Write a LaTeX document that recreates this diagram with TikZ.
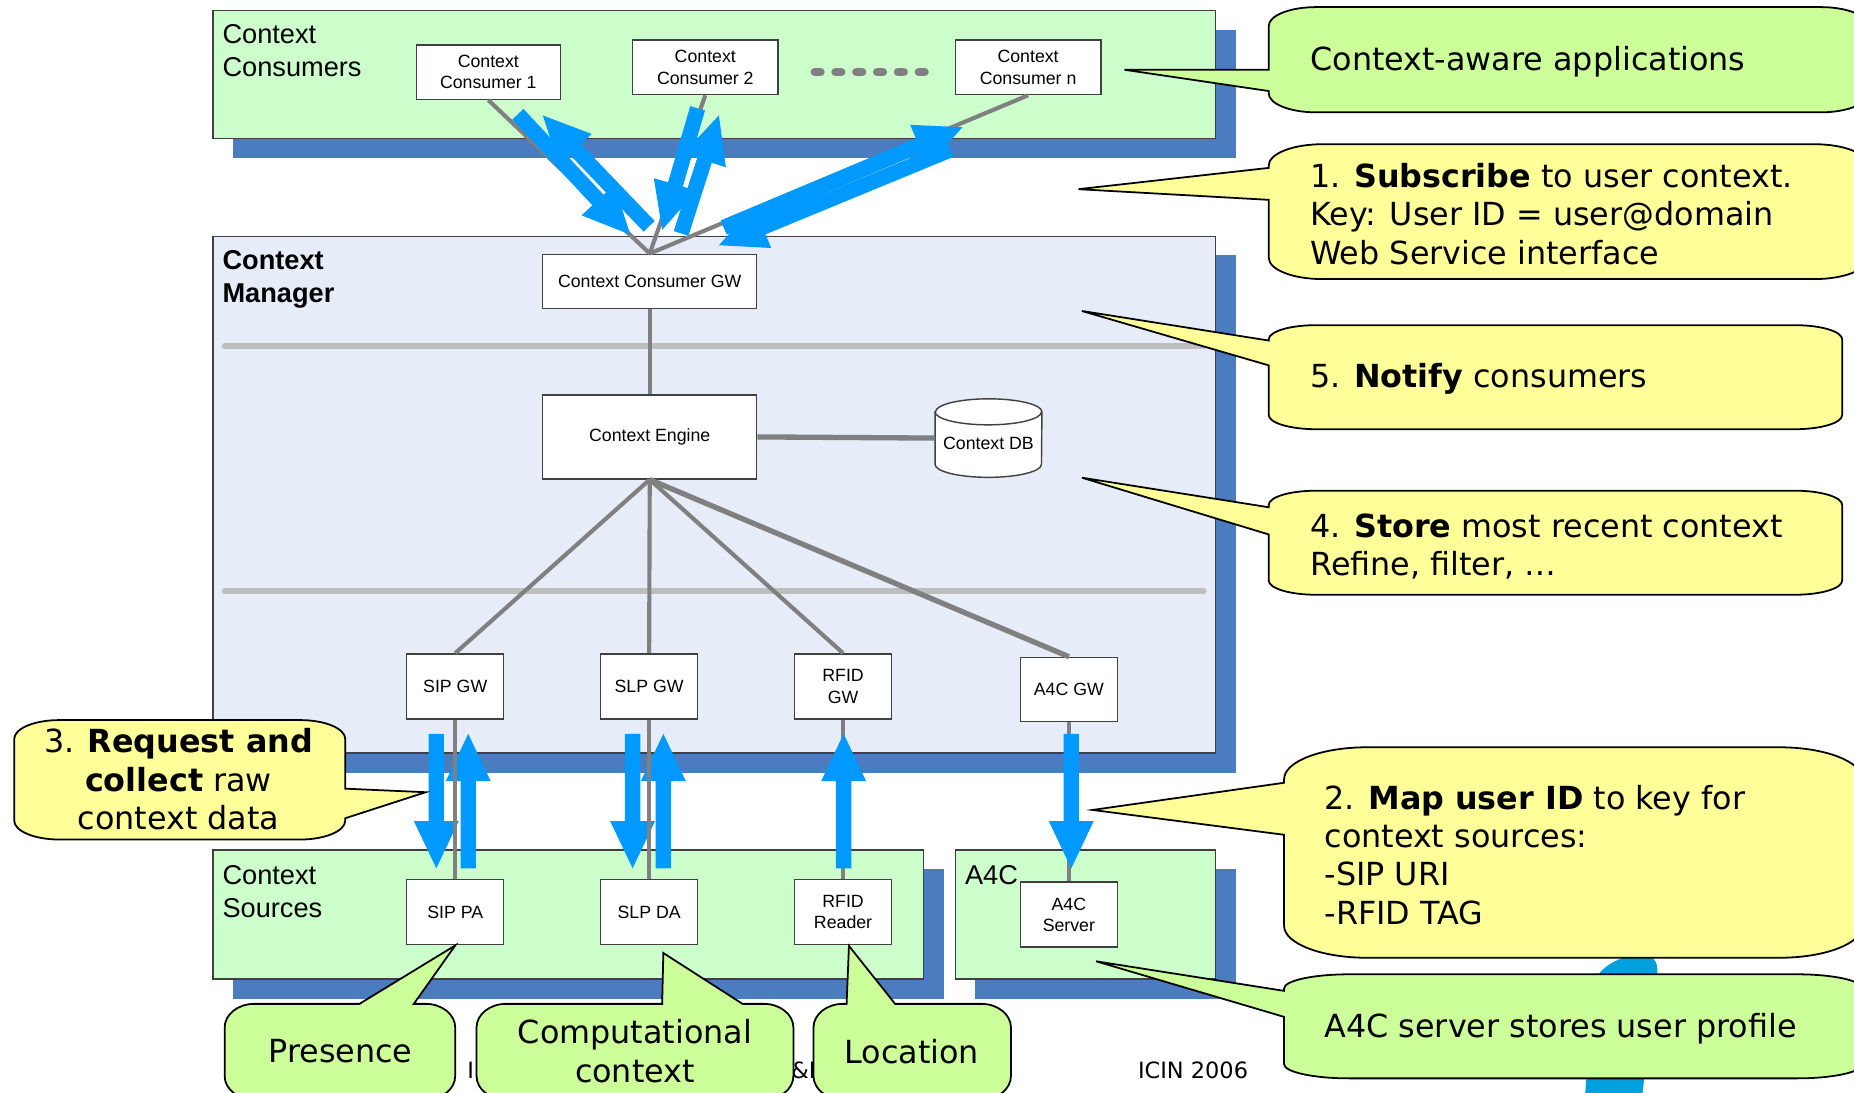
\documentclass[tikz,border=0pt]{standalone}
\usepackage{fontspec}
\setmainfont{Liberation Sans}
\newfontfamily\vfont{DejaVu Sans}
\usetikzlibrary{calc}
\definecolor{cgreen}{RGB}{204,255,204}
\definecolor{cblue}{RGB}{230,237,248}
\definecolor{cshadow}{RGB}{74,124,191}
\definecolor{cline}{RGB}{64,64,64}
\definecolor{cgray}{RGB}{128,128,128}
\definecolor{csep}{RGB}{190,190,190}
\definecolor{carrow}{RGB}{0,153,255}
\definecolor{cyel}{RGB}{255,255,153}
\definecolor{clime}{RGB}{204,255,153}
\definecolor{cswoosh}{RGB}{0,160,222}

% callout with wedge on the left side: style, L, T, R, B, rx, ry, y1, y2 ; tip in \ctip
\newcommand\calloutL[9]{%
\draw[#1] (#2,#8) -- (#2,{#3+#7}) .. controls (#2,{#3+0.448*#7}) and ({#2+0.448*#6},#3) .. ({#2+#6},#3)
 -- ({#4-#6},#3) .. controls ({#4-0.448*#6},#3) and (#4,{#3+0.448*#7}) .. (#4,{#3+#7})
 -- (#4,{#5-#7}) .. controls (#4,{#5-0.448*#7}) and ({#4-0.448*#6},#5) .. ({#4-#6},#5)
 -- ({#2+#6},#5) .. controls ({#2+0.448*#6},#5) and (#2,{#5-0.448*#7}) .. (#2,{#5-#7})
 -- (#2,#9) -- (\ctip) -- cycle;}
% callout with wedge on the right side
\newcommand\calloutR[9]{%
\draw[#1] (#4,#9) -- (#4,{#5-#7}) .. controls (#4,{#5-0.448*#7}) and ({#4-0.448*#6},#5) .. ({#4-#6},#5)
 -- ({#2+#6},#5) .. controls ({#2+0.448*#6},#5) and (#2,{#5-0.448*#7}) .. (#2,{#5-#7})
 -- (#2,{#3+#7}) .. controls (#2,{#3+0.448*#7}) and ({#2+0.448*#6},#3) .. ({#2+#6},#3)
 -- ({#4-#6},#3) .. controls ({#4-0.448*#6},#3) and (#4,{#3+0.448*#7}) .. (#4,{#3+#7})
 -- (#4,#8) -- (\ctip) -- cycle;}
% callout with wedge on the top side: x1, x2
\newcommand\calloutT[9]{%
\draw[#1] (#9,#3) -- ({#4-#6},#3) .. controls ({#4-0.448*#6},#3) and (#4,{#3+0.448*#7}) .. (#4,{#3+#7})
 -- (#4,{#5-#7}) .. controls (#4,{#5-0.448*#7}) and ({#4-0.448*#6},#5) .. ({#4-#6},#5)
 -- ({#2+#6},#5) .. controls ({#2+0.448*#6},#5) and (#2,{#5-0.448*#7}) .. (#2,{#5-#7})
 -- (#2,{#3+#7}) .. controls (#2,{#3+0.448*#7}) and ({#2+0.448*#6},#3) .. ({#2+#6},#3)
 -- (#8,#3) -- (\ctip) -- cycle;}
% thick blue arrow from #1 to #2
\newcommand\blarrow[2]{%
 \coordinate (ahC) at ($(#2)!40pt!(#1)$);
 \fill[carrow] ($(#1)!6.5pt!90:(#2)$) -- ($(ahC)!6.5pt!90:(#2)$) -- ($(ahC)!19pt!90:(#2)$) -- (#2)
  -- ($(ahC)!19pt!-90:(#2)$) -- ($(ahC)!6.5pt!-90:(#2)$) -- ($(#1)!6.5pt!-90:(#2)$) -- cycle;}

\tikzset{
 container/.style={draw=cline, line width=1.2pt, inner sep=0pt},
 shadowbox/.style={fill=cshadow},
 boxnode/.style={draw=cline, line width=1.2pt, fill=white, inner sep=0pt, align=center, font=\fontsize{15}{18}\selectfont},
 biglbl/.style={inner sep=0pt, anchor=west, align=left, font=\fontsize{23}{28}\selectfont},
 wire/.style={draw=cgray, line width=3.5pt},
 sepline/.style={draw=csep, line width=5pt, line cap=round},
 ctext/.style={inner sep=0pt, align=left, font=\vfont\fontsize{26.9}{32.5}\selectfont},
 yelcall/.style={fill=cyel, draw=black, line width=1.5pt},
 limecall/.style={fill=clime, draw=black, line width=1.5pt},
 foottext/.style={inner sep=0pt, font=\vfont\fontsize{19}{22}\selectfont},
}

\begin{document}
\begin{tikzpicture}[x=1pt,y=-1pt]
\useasboundingbox (0,0) rectangle (1568,924);
\clip (0,0) rectangle (1568,924);

% containers
\fill[shadowbox] (197,25) rectangle (1045,134);
\node[container, fill=cgreen, minimum width=848pt, minimum height=108pt] (consumers) at (604,63) {};
\fill[shadowbox] (197,216) rectangle (1045,654);
\node[container, fill=cblue, minimum width=848pt, minimum height=437pt] (manager) at (604,418.5) {};
\fill[shadowbox] (197,735) rectangle (798,845);
\node[container, fill=cgreen, minimum width=601pt, minimum height=109pt] (sources) at (480.5,773.5) {};
\fill[shadowbox] (825,735) rectangle (1045,845);
\node[container, fill=cgreen, minimum width=220pt, minimum height=109pt] (a4cbox) at (918,773.5) {};

\node[biglbl] (lconsumers) at (188,43) {Context\\Consumers};
\node[biglbl, font=\bfseries\fontsize{23}{28}\selectfont] (lmanager) at (188,236) {Context\\Manager};
\node[biglbl] (lsources) at (188,754) {Context\\Sources};
\node[biglbl] (la4c) at (816,740) {A4C};

\draw[sepline] (190,293) -- (1018,293);
\draw[sepline] (190,500) -- (1018,500);

% boxes
\node[boxnode, minimum width=122pt, minimum height=46pt] (cc1) at (413,61) {Context\\Consumer 1};
\node[boxnode, minimum width=123pt, minimum height=46pt] (cc2) at (596.5,57) {Context\\Consumer 2};
\node[boxnode, minimum width=123pt, minimum height=46pt] (ccn) at (869.5,57) {Context\\Consumer n};
\node[boxnode, minimum width=181pt, minimum height=46pt] (ccgw) at (549.5,238) {Context Consumer GW};
\node[boxnode, minimum width=181pt, minimum height=71pt] (engine) at (549.5,369.5) {Context Engine};
\node[boxnode, minimum width=82pt, minimum height=55pt] (sipgw) at (385,580.5) {SIP GW};
\node[boxnode, minimum width=82pt, minimum height=55pt] (slpgw) at (549,580.5) {SLP GW};
\node[boxnode, minimum width=82pt, minimum height=55pt] (rfidgw) at (713,580.5) {RFID\\GW};
\node[boxnode, minimum width=82pt, minimum height=54pt] (a4cgw) at (904,583) {A4C GW};
\node[boxnode, minimum width=82pt, minimum height=55pt] (sippa) at (385,771.5) {SIP PA};
\node[boxnode, minimum width=82pt, minimum height=55pt] (slpda) at (549,771.5) {SLP DA};
\node[boxnode, minimum width=82pt, minimum height=55pt] (rfidr) at (713,771.5) {RFID\\Reader};
\node[boxnode, minimum width=82pt, minimum height=55pt] (a4cs) at (904,773.5) {A4C\\Server};

% database cylinder
\node[inner sep=0pt, minimum width=90pt, minimum height=66pt] (db) at (836,370.5) {};
\filldraw[fill=white, draw=cline, line width=1.2pt] ($(db.north west)+(0,11)$) -- ($(db.south west)+(0,-11)$)
  arc[start angle=180, end angle=360, x radius=45pt, y radius=11pt] -- ($(db.north east)+(0,11)$)
  arc[start angle=0, end angle=180, x radius=45pt, y radius=11pt] -- cycle;
\draw[draw=cline, line width=1.2pt] ($(db.north west)+(0,11)$) arc[start angle=180, end angle=360, x radius=45pt, y radius=11pt];
\node[inner sep=0pt, font=\fontsize{15}{18}\selectfont] (dbt) at ($(db.center)+(0,4.5)$) {Context DB};

% dots between consumers
\foreach \i in {0,...,5} \draw[draw=cgray, line width=7pt, line cap=round] ({689+\i*17.6},61) -- ({694+\i*17.6},61);

% wires
\draw[wire] (cc1.south) -- (ccgw.north);
\draw[wire] (cc2.south) -- (ccgw.north);
\draw[wire] (ccn.south) -- (ccgw.north);
\draw[wire] (ccgw.south) -- (engine.north);
\draw[wire, line width=4.5pt] (engine.east) -- (db.west);
\draw[wire] (engine.south) -- (sipgw.north);
\draw[wire] (engine.south) -- (slpgw.north);
\draw[wire] (engine.south) -- (rfidgw.north);
\draw[wire, line width=4.5pt] (engine.south) -- (a4cgw.north);
\draw[wire] (rfidgw.south) -- (rfidr.north);
\draw[wire] (a4cgw.south) -- (a4cs.north);

% blue arrows, consumers <-> gateway
\coordinate (c1a) at ($(cc1.south)+(25,12)$);   \coordinate (c1b) at ($(ccgw.north)+(-16.5,-16)$);
\coordinate (c1c) at ($(ccgw.north)+(-0.5,-23)$); \coordinate (c1d) at ($(cc1.south)+(46,13)$);
\coordinate (c2a) at ($(cc2.south)+(-6.5,11)$);  \coordinate (c2b) at ($(ccgw.north)+(10.5,-20)$);
\coordinate (c2c) at ($(ccgw.north)+(26.5,-17)$); \coordinate (c2d) at ($(cc2.south)+(11.5,17)$);
\coordinate (cna) at ($(ccn.south)+(-65.5,46)$); \coordinate (cnb) at ($(ccgw.north)+(58.5,-7)$);
\coordinate (cnc) at ($(ccgw.north)+(62.5,-22)$); \coordinate (cnd) at ($(ccn.south)+(-55.5,27)$);
\blarrow{c1a}{c1b} \blarrow{c1c}{c1d}
\blarrow{c2a}{c2b} \blarrow{c2c}{c2d}
\blarrow{cna}{cnb} \blarrow{cnc}{cnd}

% blue arrows, gateways <-> sources
\coordinate (sa1) at ($(sipgw.south)+(-16,12)$); \coordinate (sa2) at ($(sippa.north)+(-16,-9)$);
\coordinate (sb1) at ($(sippa.north)+(11,-9)$);  \coordinate (sb2) at ($(sipgw.south)+(11,12)$);
\coordinate (la1) at ($(slpgw.south)+(-14,12)$); \coordinate (la2) at ($(slpda.north)+(-14,-9)$);
\coordinate (lb1) at ($(slpda.north)+(12,-9)$);  \coordinate (lb2) at ($(slpgw.south)+(12,12)$);
\coordinate (ra1) at ($(rfidr.north)+(0.5,-9)$); \coordinate (ra2) at ($(rfidgw.south)+(0.5,12)$);
\coordinate (aa1) at ($(a4cgw.south)+(2,10)$);   \coordinate (aa2) at ($(a4cs.north)+(2,-11)$);
\blarrow{sa1}{sa2} \blarrow{sb1}{sb2}
\blarrow{la1}{la2} \blarrow{lb1}{lb2}
\blarrow{ra1}{ra2}
\blarrow{aa1}{aa2}
\draw[wire, line width=3pt] (sipgw.south) -- (sippa.north);
\draw[wire, line width=3pt] (slpgw.south) -- (slpda.north);

% footer
\node[foottext, anchor=west] (foot1) at (395,905) {I};
\node[foottext, anchor=west] (foot2) at (669,905) {\&D};
\node[foottext] (icin) at (1009,905) {ICIN 2006};

% swoosh behind callouts
\fill[cswoosh] (1347,835) .. controls (1350,818) and (1372,806) .. (1392,808) .. controls (1404,810) and (1403,822) .. (1399,835) -- (1388,935) -- (1340,935) -- cycle;

% callouts
\coordinate (tipA) at (951,59);
\def\ctip{tipA}\calloutL{limecall}{1073}{6}{1580}{95}{40}{16}{59}{77}
\node[ctext, anchor=west] (tA) at (1108,52) {Context-aware applications};

\coordinate (tipB) at (912,160);
\def\ctip{tipB}\calloutL{yelcall}{1073}{122}{1580}{236}{45}{18}{142}{169}
\node[ctext, anchor=west] (tB) at (1108,181) {1. \textbf{Subscribe} to user context.\\Key: User ID = user@domain\\Web Service interface};

\coordinate (tipC) at (915,263);
\def\ctip{tipC}\calloutL{yelcall}{1073}{275}{1558}{363}{40}{12}{288}{309}
\node[ctext, anchor=west] (tC) at (1108,320) {5. \textbf{Notify} consumers};

\coordinate (tipD) at (915,404);
\def\ctip{tipD}\calloutL{yelcall}{1073}{415}{1558}{503}{40}{12}{429}{452}
\node[ctext, anchor=west] (tD) at (1108,462) {4. \textbf{Store} most recent context\\Refine, filter, …};

\coordinate (tipE) at (924,685);
\def\ctip{tipE}\calloutL{yelcall}{1086}{632}{1575}{810}{70}{27}{662}{706}
\node[ctext, anchor=west] (tE) at (1120,723) {2. \textbf{Map user ID} to key for\\context sources:\\-SIP URI\\-RFID TAG};

\coordinate (tipF) at (927,813);
\def\ctip{tipF}\calloutL{limecall}{1086}{824}{1575}{912}{55}{12}{838}{860}
\node[ctext, anchor=west] (tF) at (1120,870) {A4C server stores user profile};

\coordinate (tipG) at (360,670);
\def\ctip{tipG}\calloutR{yelcall}{12}{609}{292}{710}{38}{16}{667}{692}
\node[ctext, align=center] (tG) at (151,659) {3. \textbf{Request and}\\\textbf{collect} raw\\context data};

\def\ctip{sippa.south}\calloutT{limecall}{190}{849}{385}{930}{25}{20}{304}{350}
\node[ctext] (tH) at (288,889) {Presence};

\coordinate (tipI) at (561,806);
\def\ctip{tipI}\calloutT{limecall}{403}{849}{671}{930}{25}{20}{560}{628}
\node[ctext, align=center] (tI) at (537,889) {Computational\\context};

\coordinate (tipJ) at (718,800);
\def\ctip{tipJ}\calloutT{limecall}{688}{849}{855}{930}{25}{20}{716}{757}
\node[ctext] (tJ) at (771,889) {Location};
\end{tikzpicture}
\end{document}
